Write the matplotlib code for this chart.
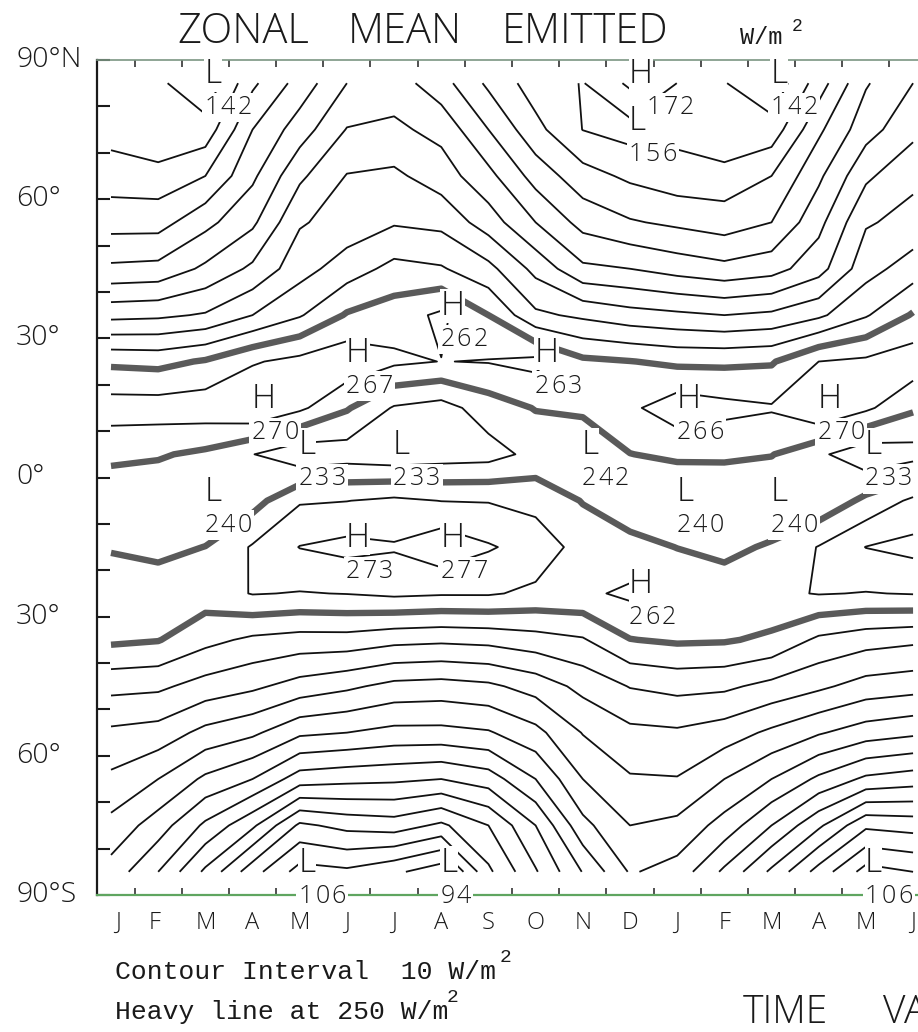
import numpy as np
import matplotlib
matplotlib.use('Agg')
import matplotlib.pyplot as plt
from matplotlib import font_manager
from matplotlib.transforms import blended_transform_factory

# zonal mean emitted longwave, W/m2, 18 months (Jan .. Jun of next year)
months = ['J', 'F', 'M', 'A', 'M', 'J', 'J', 'A', 'S', 'O', 'N', 'D',
          'J', 'F', 'M', 'A', 'M', 'J']
lats = [85, 75, 65, 55, 45, 35, 25, 15, 5, -5, -15, -25, -35, -45, -55, -65, -75, -85]

n85 = [153, 152, 142, 168, 184, 200, 205, 194, 178, 165, 159.5, 172, 159.9, 150.5, 142, 165, 189, 200]
n75 = [156, 150.5, 154, 180, 195, 210.5, 212, 207, 190, 173, 159.8, 156, 157, 150.5, 154, 178, 196, 207]
n65 = [165, 164, 170, 188, 208, 220.5, 222, 215, 203, 186, 174, 168, 164, 164, 170, 188, 208, 218]
n55 = [176, 176, 187, 198, 219, 224, 229, 227.3, 215, 200, 186.5, 181, 178, 175, 180, 197, 219, 223]
n45 = [192, 193, 202, 212, 226, 235, 243, 241, 233, 217, 202, 200, 196, 193, 196, 206, 226, 235]
n35 = [217, 218, 221, 230, 239, 251, 255, 262, 250, 232, 228, 224, 222, 220, 222, 228, 239, 251]
n25 = [248, 247, 251, 259, 263, 267, 262, 259.8, 260.5, 263, 252, 250.3, 248, 248, 249, 260, 262, 266]
n15 = [265, 265, 266, 270, 262, 251, 239, 236, 245, 250.5, 252, 258, 266, 263, 261, 270, 262, 251.5]
n05 = [252, 251, 248, 240.3, 233, 235, 233, 235, 236, 243, 242, 249.8, 252, 251.5, 250.5, 242, 233, 236]
s05 = [244, 243, 240, 246, 259, 259.8, 262, 259.8, 259.5, 256.7, 249.5, 244, 240, 243, 240, 242, 252.5, 262]
s15 = [249, 247, 250.2, 261, 270.3, 273, 271, 277, 271, 266, 256, 253, 249.8, 247, 251.5, 260.5, 270.2, 273]
s25 = [257, 256, 255, 260.5, 259.5, 260.3, 262, 261, 261, 258, 258, 262, 257, 256, 258, 260.5, 259.6, 260.5]
s35 = [252, 250.5, 243, 238, 236, 236, 233, 232, 233, 236, 239, 249.7, 251.5, 251, 248, 238, 234, 232]
s45 = [233, 232, 226, 222, 216, 212, 207, 206, 208, 214, 223, 230.5, 233, 232, 227, 222, 216, 214]
s55 = [218, 216, 207, 202, 192, 190, 187, 187, 189, 197, 210.5, 217.5, 218.5, 215, 208, 201, 195, 192]
s65 = [208, 200, 188, 180, 165, 163, 162, 160, 165, 180, 200, 209, 209.5, 200, 190, 178, 168, 165]
s75 = [197, 185, 168, 152, 128, 133, 135, 128, 140, 160, 187, 200, 197.5, 186, 170, 152, 132, 134]
s85 = [186, 170, 148, 124, 106, 108, 102, 94, 128, 149, 170.5, 191, 186, 168, 148, 126, 106, 110]

# highs and lows marked on the chart
hl_kind = ['L', 'H', 'L', 'L', 'H', 'H', 'H', 'H', 'H', 'H', 'L', 'L', 'L', 'L',
           'L', 'L', 'L', 'H', 'H', 'H', 'L', 'L', 'L']
hl_month = [2, 11, 11, 14, 7, 5, 9, 3, 12, 15, 4, 6, 10, 16,
            2, 12, 14, 5, 7, 11, 4, 7, 16]
hl_lat = [85, 85, 75, 85, 35, 25, 25, 15, 15, 15, 5, 5, 5, 5,
          -5, -5, -5, -15, -15, -25, -85, -85, -85]
hl_value = [142, 172, 156, 142, 262, 267, 263, 270, 266, 270, 233, 233, 242, 233,
            240, 240, 240, 273, 277, 262, 106, 94, 106]

olr = np.array([n85, n75, n65, n55, n45, n35, n25, n15, n05,
                s05, s15, s25, s35, s45, s55, s65, s75, s85])
lat_arr = np.array(lats)
t = np.arange(len(months))


def weight_of(entry):
    w = entry.weight
    if isinstance(w, str):
        w = font_manager.weight_dict.get(w, 400)
    return w


# a light sans face for the plotter-style lettering, if one is installed
entries = font_manager.fontManager.ttflist
thin_face = next((name for name in ['Open Sans', 'Roboto', 'Noto Sans', 'Lato', 'Inter']
                  if any(e.name == name and weight_of(e) == 300 for e in entries)), None)
if thin_face:
    sans = dict(family=thin_face, fontweight=300, color='#1a1a1a')
else:
    sans = dict(family='Lato', color='#1a1a1a')
mono = dict(family='Liberation Mono', color='#1a1a1a')
white = dict(facecolor='white', edgecolor='none', pad=0.3)
white_digit = dict(facecolor='white', edgecolor='none', pad=1.6)

W, H = 918, 1032
fig = plt.figure(figsize=(W / 100, H / 100), dpi=100)
fig.patch.set_facecolor('white')

px_per_month = 47.18
x_left = -14 / px_per_month
ax = fig.add_axes([97 / W, (H - 895) / H, 830 / W, 835 / H])
ax.set_xlim(x_left, x_left + 830 / px_per_month)
ax.set_ylim(-90, 90)

thin = [v for v in range(90, 290, 10) if v != 250]
ax.contour(t, lat_arr[::-1], olr[::-1], levels=thin, colors='#111111', linewidths=1.3)
ax.contour(t, lat_arr[::-1], olr[::-1], levels=[250], colors='#5a5a5a', linewidths=4.6)

ax.spines['right'].set_visible(False)
ax.spines['left'].set_color('#1a1a1a')
ax.spines['left'].set_linewidth(1.6)
ax.spines['top'].set_color('#7c9683')
ax.spines['top'].set_linewidth(1.2)
ax.spines['bottom'].set_color('#5fa560')
ax.spines['bottom'].set_linewidth(1.6)

ax.set_yticks(range(-90, 91, 10))
ax.tick_params(axis='y', direction='in', length=9, width=1.5, color='#1a1a1a',
               left=True, right=False, labelleft=False)
ax.set_xticks(np.arange(0.5, 17, 1))
ax.tick_params(axis='x', direction='in', length=5, width=1.2, color='#333333',
               top=True, bottom=True, labelbottom=False)

# latitude labels, left aligned at the page margin
ylab = blended_transform_factory(fig.transFigure, ax.transData)
for lat, txt in zip([90, 60, 30, 0, -30, -60, -90],
                    ['90°N', '60°', '30°', '0°', '30°', '60°', '90°S']):
    fig.text(16 / W, lat, txt, transform=ylab, ha='left', va='center', fontsize=20.5, **sans)

# month letters
xlab = blended_transform_factory(ax.transData, fig.transFigure)
label_x = t.astype(float)
label_x[0] += 0.15
label_x[1] -= 0.07
for xm, m in zip(label_x, months):
    fig.text(xm, 1 - 923 / H, m, transform=xlab, ha='center', va='center', fontsize=17, **sans)

# H / L markers with their values, digits spaced like the plotter font
for k, mi, la, val in zip(hl_kind, hl_month, hl_lat, hl_value):
    ax.annotate(k, (mi, la), xytext=(-1, 0), textcoords='offset pixels',
                ha='left', va='baseline', fontsize=24, zorder=5, bbox=white, **sans)
    # the polar high sits right above a low, so its value steps aside
    dx = 17 if (mi, la) == (11, 85) else -1
    for j, ch in enumerate(str(val)):
        ax.annotate(ch, (mi, la), xytext=(dx + 16.5 * j, -31), textcoords='offset pixels',
                    ha='left', va='baseline', fontsize=18, zorder=5,
                    annotation_clip=False, bbox=white_digit, **sans)

for word, x0 in zip(['ZONAL', 'MEAN', 'EMITTED'], [177, 348, 502]):
    fig.text(x0 / W, 1 - 43 / H, word, ha='left', va='baseline', fontsize=30, **sans)
fig.text(740 / W, 1 - 44 / H, 'W/m', ha='left', va='baseline', fontsize=17, **mono)
fig.text(792 / W, 1 - 31 / H, '2', ha='left', va='baseline', fontsize=13, **mono)

fig.text(115 / W, 1 - 979 / H, 'Contour Interval  10 W/m', ha='left', va='baseline', fontsize=19, **mono)
fig.text(500 / W, 1 - 962 / H, '2', ha='left', va='baseline', fontsize=14, **mono)
fig.text(115 / W, 1 - 1019 / H, 'Heavy line at 250 W/m', ha='left', va='baseline', fontsize=19, **mono)
fig.text(447 / W, 1 - 1002 / H, '2', ha='left', va='baseline', fontsize=14, **mono)

for word, x0 in zip(['TIME', 'VA'], [743, 883]):
    fig.text(x0 / W, 1 - 1023 / H, word, ha='left', va='baseline', fontsize=28, **sans)

fig.savefig('out.png', dpi=100, facecolor='white')
